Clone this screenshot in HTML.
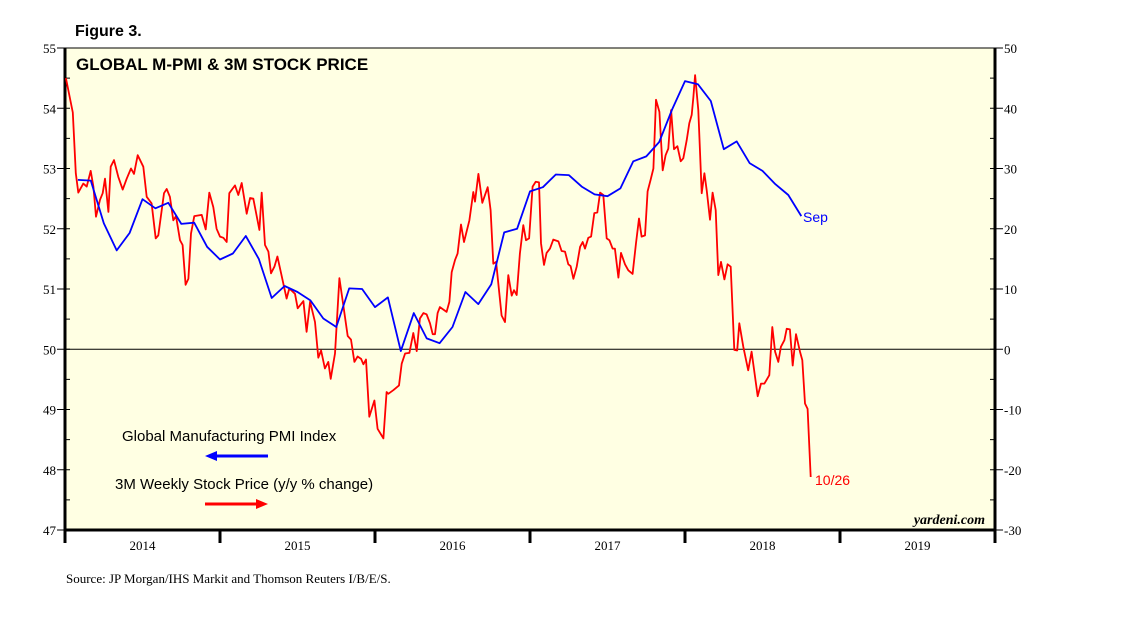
<!DOCTYPE html>
<html><head><meta charset="utf-8"><style>
body{margin:0;background:#fff;width:1138px;height:621px;overflow:hidden}
svg{font-family:"Liberation Sans",sans-serif}
</style></head><body>
<svg id="chart" width="1138" height="621">
<text x="75" y="36" font-size="16" font-weight="bold">Figure 3.</text>
<rect x="65" y="48" width="930" height="482" fill="#ffffe3" stroke="#000" stroke-width="1"/>
<text x="76" y="70" font-size="17" font-weight="bold">GLOBAL M-PMI &amp; 3M STOCK PRICE</text>
<g id="axes"></g>
<g id="series"></g>
<text x="122" y="441" font-size="15">Global Manufacturing PMI Index</text>
<g><line x1="215" y1="456" x2="268" y2="456" stroke="#0000ff" stroke-width="3"/><polygon points="205,456 217,451 217,461" fill="#0000ff"/></g>
<text x="115" y="489" font-size="15">3M Weekly Stock Price (y/y % change)</text>
<g><line x1="205" y1="504" x2="258" y2="504" stroke="#ff0000" stroke-width="3"/><polygon points="268,504 256,499 256,509" fill="#ff0000"/></g>
<text x="803" y="222" font-size="14" fill="#0000ff">Sep</text>
<text x="815" y="485" font-size="14" fill="#ff0000">10/26</text>
<text x="985" y="524" font-size="14" font-weight="bold" font-style="italic" text-anchor="end" font-family="Liberation Serif,serif">yardeni.com</text>
<text x="66" y="583" font-size="13" font-family="Liberation Serif,serif">Source: JP Morgan/IHS Markit and Thomson Reuters I/B/E/S.</text>
</svg>
<script>
const pmiValues=[52.81,52.8,52.09,51.64,51.93,52.49,52.34,52.43,52.08,52.1,51.7,51.49,51.59,51.88,51.5,50.85,51.05,50.95,50.81,50.51,50.37,51.01,51.0,50.7,50.86,49.97,50.6,50.18,50.1,50.37,50.95,50.75,51.08,51.94,52.0,52.62,52.69,52.9,52.89,52.7,52.57,52.54,52.67,53.12,53.2,53.44,53.98,54.45,54.4,54.12,53.32,53.45,53.09,52.96,52.74,52.56,52.21];
const stockTimes=[0.006,0.05,0.07,0.086,0.118,0.14,0.166,0.183,0.2,0.226,0.243,0.258,0.28,0.295,0.316,0.344,0.372,0.398,0.426,0.445,0.469,0.505,0.527,0.559,0.585,0.602,0.639,0.656,0.677,0.699,0.716,0.742,0.759,0.778,0.796,0.813,0.834,0.882,0.908,0.931,0.957,0.978,1.0,1.022,1.043,1.06,1.097,1.118,1.14,1.172,1.194,1.215,1.254,1.269,1.29,1.312,1.329,1.351,1.37,1.394,1.43,1.447,1.484,1.501,1.538,1.559,1.581,1.613,1.634,1.652,1.677,1.699,1.714,1.742,1.77,1.791,1.824,1.845,1.867,1.888,1.91,1.925,1.942,1.963,1.996,2.017,2.054,2.075,2.086,2.118,2.155,2.172,2.194,2.222,2.247,2.269,2.29,2.312,2.333,2.355,2.372,2.387,2.404,2.419,2.462,2.48,2.495,2.516,2.533,2.555,2.574,2.609,2.634,2.645,2.667,2.692,2.727,2.746,2.763,2.781,2.817,2.839,2.86,2.882,2.897,2.914,2.935,2.957,2.974,2.994,3.017,3.037,3.058,3.071,3.09,3.107,3.129,3.15,3.183,3.204,3.226,3.247,3.262,3.28,3.301,3.323,3.34,3.355,3.376,3.394,3.415,3.434,3.452,3.473,3.495,3.512,3.533,3.548,3.57,3.587,3.613,3.634,3.662,3.684,3.703,3.72,3.742,3.759,3.778,3.796,3.813,3.835,3.856,3.875,3.892,3.91,3.929,3.951,3.972,3.989,4.011,4.028,4.043,4.054,4.065,4.086,4.108,4.125,4.14,4.161,4.178,4.198,4.215,4.232,4.254,4.275,4.295,4.318,4.337,4.35,4.376,4.408,4.43,4.469,4.49,4.512,4.544,4.563,4.581,4.602,4.619,4.641,4.656,4.677,4.695,4.716,4.742,4.757,4.774,4.791,4.811];
const stockValues=[45.0,39.3,29.2,26.0,27.5,27.0,29.6,27.0,22.0,24.8,25.9,28.3,22.8,30.3,31.4,28.6,26.5,28.3,30.0,29.1,32.2,30.3,25.3,24.2,18.4,18.9,25.9,26.6,25.3,21.4,22.1,18.1,17.3,10.7,11.7,19.2,22.1,22.3,19.9,26.0,23.6,20.0,18.7,18.5,17.8,25.9,27.2,25.6,27.6,22.5,25.1,25.0,19.8,26.0,17.3,16.2,12.6,13.7,15.4,12.6,8.4,10.1,9.2,6.8,8.0,2.9,7.9,4.5,-1.4,-0.2,-3.2,-2.1,-4.9,-0.7,11.8,8.1,2.2,1.6,-2.1,-1.2,-1.6,-2.5,-1.7,-11.2,-8.5,-13.2,-14.8,-7.1,-7.4,-6.8,-6.0,-2.4,-0.7,-0.6,2.7,-0.3,5.1,6.0,5.8,4.3,2.5,2.5,6.0,7.0,6.2,7.9,12.8,14.8,15.9,20.7,17.8,21.4,26.1,24.5,29.1,24.3,26.9,23.1,14.2,14.5,5.6,4.5,12.3,8.9,9.8,9.0,15.9,20.6,18.1,18.4,27.0,27.8,27.7,17.6,14.0,16.0,16.7,18.2,17.9,16.3,16.2,14.1,13.8,11.7,13.7,17.0,17.8,16.7,18.5,18.7,22.6,22.7,26.0,25.6,18.4,18.1,16.7,16.7,11.9,16.0,14.1,13.1,12.5,17.6,21.7,18.7,18.9,26.2,28.1,30.0,41.4,39.4,29.7,32.2,33.3,39.7,33.2,33.7,31.2,31.7,34.7,37.5,38.9,41.9,45.5,39.7,25.9,29.2,26.4,21.5,26.0,23.1,12.3,14.5,11.6,14.1,13.7,-0.1,-0.2,4.3,0.4,-3.5,-0.4,-7.8,-5.7,-5.7,-4.3,3.7,-0.4,-2.1,0.4,1.5,3.4,3.3,-2.7,2.5,-0.4,-1.8,-9.0,-9.9,-21.2];
const yearLabels=["2014","2015","2016","2017","2018","2019"];
const leftTicks=[47,48,49,50,51,52,53,54,55];
const rightTicks=[-30,-20,-10,0,10,20,30,40,50];

const NS="http://www.w3.org/2000/svg";
const X0=65,X1=995,Y0=48,Y1=530,YEAR=(X1-X0)/6;
const xT=t=>X0+t*YEAR;
const xM=m=>X0+(m+1)*YEAR/12;
const yL=v=>Y1-(v-47)/8*(Y1-Y0);
const yR=v=>Y1-(v+30)/80*(Y1-Y0);
function mk(tag,attrs,parent){const e=document.createElementNS(NS,tag);for(const k in attrs)e.setAttribute(k,attrs[k]);parent.appendChild(e);return e;}
const axes=document.getElementById('axes'),series=document.getElementById('series');
// zero line
let z=mk('line',{x1:X0,x2:X1,y1:yR(0),y2:yR(0),stroke:'#000','stroke-width':1},axes);


// thick axes
let la=mk('line',{x1:X0,x2:X0,y1:Y0,y2:Y1+1,stroke:'#000','stroke-width':3},axes);


let ra=mk('line',{x1:X1,x2:X1,y1:Y0,y2:Y1+1,stroke:'#000','stroke-width':3},axes);


let ba=mk('line',{x1:X0,x2:X1,y1:Y1,y2:Y1,stroke:'#000','stroke-width':3},axes);


for(let v=47;v<=55;v+=0.5){const y=yL(v);mk('line',{x1:X0-(v%1===0?8:0),x2:X0+5,y1:y,y2:y,stroke:'#000','stroke-width':1},axes);}
leftTicks.forEach(v=>{const t=mk('text',{x:X0-9,y:yL(v)+5,'font-size':13,'text-anchor':'end','font-family':'Liberation Serif,serif'},axes);t.textContent=v;

});
for(let v=-30;v<=50;v+=5){const y=yR(v);mk('line',{x1:X1-5,x2:X1+(v%10===0?8:0),y1:y,y2:y,stroke:'#000','stroke-width':1},axes);}
rightTicks.forEach(v=>{const t=mk('text',{x:X1+9,y:yR(v)+5,'font-size':13,'font-family':'Liberation Serif,serif'},axes);t.textContent=v;

});
yearLabels.forEach((l,i)=>{mk('line',{x1:xT(i),x2:xT(i),y1:Y1,y2:Y1+13,stroke:'#000','stroke-width':3},axes);
const t=mk('text',{x:xT(i+0.5),y:Y1+20,'font-size':13,'text-anchor':'middle','font-family':'Liberation Serif,serif'},axes);t.textContent=l;

});
mk('line',{x1:X1,x2:X1,y1:Y1,y2:Y1+13,stroke:'#000','stroke-width':3},axes);
let sp=mk('polyline',{points:stockTimes.map((t,i)=>xT(t).toFixed(1)+','+yR(stockValues[i]).toFixed(1)).join(' '),fill:'none',stroke:'#ff0000','stroke-width':1.8,'stroke-linejoin':'round'},series);


let pp=mk('polyline',{points:pmiValues.map((v,i)=>xM(i).toFixed(1)+','+yL(v).toFixed(1)).join(' '),fill:'none',stroke:'#0000ff','stroke-width':1.8,'stroke-linejoin':'round'},series);


</script>
</body></html>
